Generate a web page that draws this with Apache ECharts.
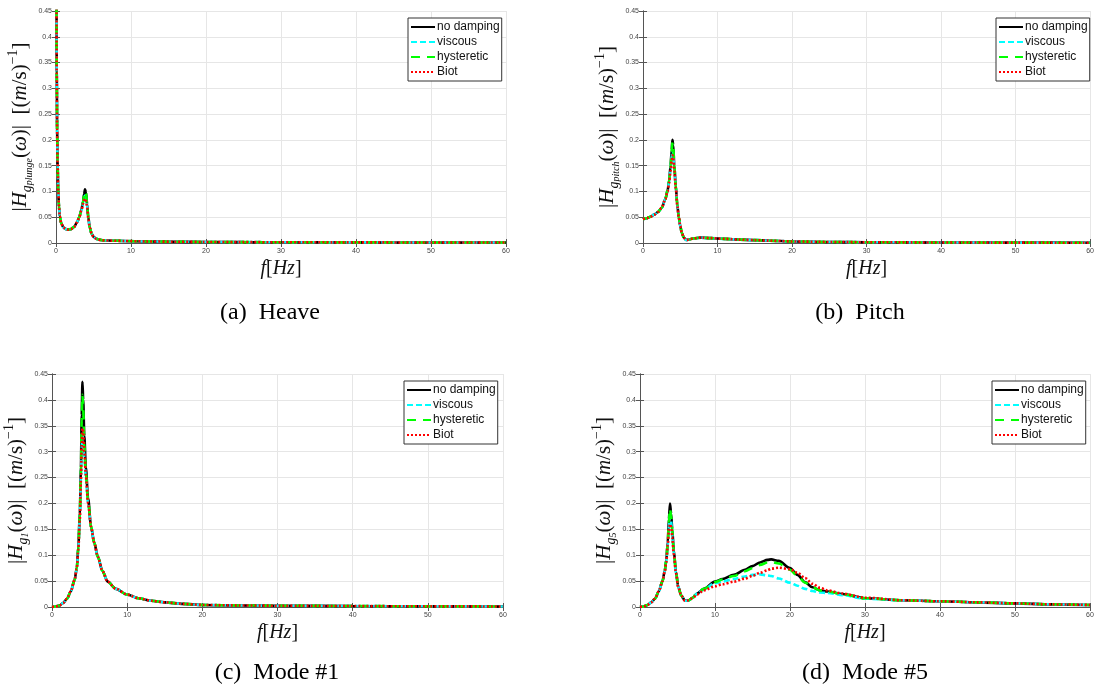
<!DOCTYPE html>
<html>
<head>
<meta charset="utf-8">
<script src="https://cdn.jsdelivr.net/npm/echarts@6/dist/echarts.min.js"></script>
<style>html,body{margin:0;padding:0;background:#fff}#c{width:1097px;height:693px}</style>
</head>
<body>
<div id="c"></div>
<script>
// ---------- data ----------
const seriesNames = ['no damping', 'viscous', 'hysteretic', 'Biot'];
const xTicks = [0, 10, 20, 30, 40, 50, 60];
const yTicks = [0, 0.05, 0.1, 0.15, 0.2, 0.25, 0.3, 0.35, 0.4, 0.45];

// (a) Heave
const xA = [0, 0.05, 0.1, 0.15, 0.2, 0.3, 0.4, 0.5, 0.7, 1.0, 1.3, 1.6, 2.0, 2.4, 2.8, 3.1, 3.4, 3.6, 3.75, 3.87, 4.0, 4.15, 4.3, 4.5, 4.75, 5.0, 5.4, 5.9, 6.5, 7.5, 9, 12, 16, 20, 25, 30, 40, 50, 60];
const heaveNoDamp = [1.2, 0.55, 0.33, 0.22, 0.16, 0.10, 0.07, 0.052, 0.038, 0.030, 0.027, 0.026, 0.027, 0.031, 0.040, 0.050, 0.065, 0.080, 0.095, 0.104, 0.098, 0.075, 0.050, 0.030, 0.018, 0.012, 0.008, 0.006, 0.005, 0.0045, 0.004, 0.003, 0.0025, 0.002, 0.0017, 0.0015, 0.0012, 0.001, 0.001];
const heaveViscous = [1.2, 0.55, 0.33, 0.22, 0.16, 0.10, 0.07, 0.052, 0.038, 0.030, 0.027, 0.026, 0.027, 0.031, 0.040, 0.050, 0.064, 0.078, 0.088, 0.092, 0.088, 0.072, 0.050, 0.030, 0.018, 0.012, 0.008, 0.006, 0.005, 0.0045, 0.004, 0.003, 0.0025, 0.002, 0.0017, 0.0015, 0.0012, 0.001, 0.001];
const heaveHyster = [1.2, 0.55, 0.33, 0.22, 0.16, 0.10, 0.07, 0.052, 0.038, 0.030, 0.027, 0.026, 0.027, 0.031, 0.040, 0.050, 0.065, 0.079, 0.093, 0.100, 0.096, 0.075, 0.050, 0.030, 0.018, 0.012, 0.008, 0.006, 0.005, 0.0045, 0.004, 0.003, 0.0025, 0.002, 0.0017, 0.0015, 0.0012, 0.001, 0.001];
const heaveBiot = [1.2, 0.55, 0.33, 0.22, 0.16, 0.10, 0.07, 0.052, 0.038, 0.030, 0.027, 0.026, 0.027, 0.031, 0.040, 0.050, 0.063, 0.076, 0.083, 0.086, 0.083, 0.070, 0.049, 0.030, 0.018, 0.012, 0.008, 0.006, 0.005, 0.0045, 0.004, 0.003, 0.0025, 0.002, 0.0017, 0.0015, 0.0012, 0.001, 0.001];

// (b) Pitch
const xB = [0, 0.5, 1, 1.5, 2, 2.5, 3, 3.3, 3.5, 3.7, 3.85, 3.95, 4.05, 4.2, 4.4, 4.6, 4.8, 5.0, 5.2, 5.5, 5.8, 6.2, 6.8, 7.8, 9, 11, 13, 15, 17, 20, 25, 30, 40, 50, 60];
const pitchNoDamp = [0.046, 0.048, 0.051, 0.055, 0.060, 0.068, 0.085, 0.102, 0.120, 0.150, 0.180, 0.200, 0.190, 0.150, 0.110, 0.075, 0.050, 0.033, 0.020, 0.010, 0.006, 0.007, 0.009, 0.0105, 0.0095, 0.008, 0.0065, 0.0055, 0.0045, 0.003, 0.002, 0.0015, 0.001, 0.0007, 0.0005];
const pitchViscous = [0.046, 0.048, 0.051, 0.055, 0.060, 0.068, 0.085, 0.101, 0.118, 0.145, 0.168, 0.180, 0.175, 0.145, 0.108, 0.074, 0.050, 0.033, 0.020, 0.010, 0.006, 0.007, 0.009, 0.0105, 0.0095, 0.008, 0.0065, 0.0055, 0.0045, 0.003, 0.002, 0.0015, 0.001, 0.0007, 0.0005];
const pitchHyster = [0.046, 0.048, 0.051, 0.055, 0.060, 0.068, 0.085, 0.102, 0.120, 0.149, 0.178, 0.195, 0.187, 0.150, 0.110, 0.075, 0.050, 0.033, 0.020, 0.010, 0.006, 0.007, 0.009, 0.0105, 0.0095, 0.008, 0.0065, 0.0055, 0.0045, 0.003, 0.002, 0.0015, 0.001, 0.0007, 0.0005];
const pitchBiot = [0.046, 0.048, 0.051, 0.055, 0.060, 0.068, 0.085, 0.100, 0.116, 0.140, 0.160, 0.170, 0.167, 0.142, 0.106, 0.073, 0.050, 0.033, 0.020, 0.010, 0.006, 0.007, 0.009, 0.0105, 0.0095, 0.008, 0.0065, 0.0055, 0.0045, 0.003, 0.002, 0.0015, 0.001, 0.0007, 0.0005];

// (c) Mode #1
const xC = [0, 0.5, 1, 1.5, 2, 2.5, 3, 3.3, 3.5, 3.7, 3.85, 3.95, 4.05, 4.15, 4.3, 4.5, 4.8, 5.2, 5.6, 6.1, 6.7, 7.4, 8.5, 10, 11.5, 13.2, 15, 17.5, 20, 25, 30, 40, 50, 60];
const mode1NoDamp = [0, 0.001, 0.003, 0.008, 0.016, 0.030, 0.052, 0.075, 0.116, 0.180, 0.270, 0.370, 0.435, 0.400, 0.330, 0.270, 0.210, 0.155, 0.125, 0.097, 0.070, 0.049, 0.035, 0.024, 0.017, 0.012, 0.009, 0.006, 0.004, 0.003, 0.0025, 0.0018, 0.0013, 0.001];
const mode1Viscous = [0, 0.001, 0.003, 0.008, 0.016, 0.030, 0.052, 0.074, 0.112, 0.175, 0.250, 0.310, 0.330, 0.320, 0.290, 0.250, 0.200, 0.155, 0.125, 0.097, 0.070, 0.049, 0.035, 0.024, 0.017, 0.012, 0.009, 0.006, 0.004, 0.003, 0.0025, 0.0018, 0.0013, 0.001];
const mode1Hyster = [0, 0.001, 0.003, 0.008, 0.016, 0.030, 0.052, 0.075, 0.115, 0.178, 0.265, 0.360, 0.410, 0.385, 0.315, 0.258, 0.205, 0.155, 0.125, 0.097, 0.070, 0.049, 0.035, 0.024, 0.017, 0.012, 0.009, 0.006, 0.004, 0.003, 0.0025, 0.0018, 0.0013, 0.001];
const mode1Biot = [0, 0.001, 0.003, 0.008, 0.016, 0.030, 0.052, 0.074, 0.111, 0.170, 0.245, 0.310, 0.345, 0.340, 0.300, 0.255, 0.200, 0.155, 0.125, 0.097, 0.070, 0.049, 0.035, 0.024, 0.017, 0.012, 0.009, 0.006, 0.004, 0.003, 0.0025, 0.0018, 0.0013, 0.001];

// (d) Mode #5
const xD = [0, 0.5, 1, 1.5, 2, 2.5, 3, 3.3, 3.5, 3.7, 3.85, 4.0, 4.15, 4.3, 4.5, 4.8, 5.1, 5.5, 6.0, 6.5, 7.0, 7.6, 8.5, 10, 11, 12.5, 14, 15, 16, 17, 17.5, 18.5, 20, 21, 22, 23, 24, 25, 27, 30, 35, 40, 45, 50, 55, 60];
const mode5NoDamp = [0, 0.001, 0.004, 0.009, 0.016, 0.030, 0.050, 0.070, 0.090, 0.125, 0.170, 0.200, 0.180, 0.150, 0.110, 0.068, 0.039, 0.022, 0.012, 0.013, 0.018, 0.026, 0.035, 0.049, 0.054, 0.062, 0.072, 0.079, 0.086, 0.091, 0.092, 0.089, 0.075, 0.062, 0.048, 0.038, 0.032, 0.030, 0.025, 0.017, 0.013, 0.011, 0.009, 0.007, 0.005, 0.004];
const mode5Viscous = [0, 0.001, 0.004, 0.009, 0.016, 0.030, 0.050, 0.069, 0.088, 0.120, 0.155, 0.175, 0.165, 0.140, 0.105, 0.066, 0.039, 0.022, 0.012, 0.013, 0.018, 0.026, 0.034, 0.046, 0.049, 0.054, 0.059, 0.062, 0.063, 0.061, 0.060, 0.055, 0.047, 0.041, 0.035, 0.031, 0.028, 0.027, 0.023, 0.016, 0.013, 0.011, 0.009, 0.007, 0.005, 0.004];
const mode5Hyster = [0, 0.001, 0.004, 0.009, 0.016, 0.030, 0.050, 0.070, 0.089, 0.123, 0.165, 0.190, 0.175, 0.147, 0.108, 0.067, 0.039, 0.022, 0.012, 0.013, 0.018, 0.026, 0.035, 0.048, 0.053, 0.060, 0.069, 0.075, 0.081, 0.086, 0.087, 0.084, 0.072, 0.060, 0.047, 0.038, 0.032, 0.030, 0.025, 0.017, 0.013, 0.011, 0.009, 0.007, 0.005, 0.004];
const mode5Biot = [0, 0.001, 0.004, 0.009, 0.016, 0.030, 0.050, 0.068, 0.086, 0.120, 0.150, 0.160, 0.155, 0.135, 0.102, 0.065, 0.038, 0.022, 0.012, 0.013, 0.017, 0.024, 0.032, 0.040, 0.044, 0.049, 0.055, 0.060, 0.066, 0.071, 0.074, 0.076, 0.073, 0.066, 0.056, 0.045, 0.037, 0.032, 0.026, 0.018, 0.013, 0.011, 0.009, 0.007, 0.005, 0.004];

const panels = [
  { x: xA, ys: [heaveNoDamp, heaveViscous, heaveHyster, heaveBiot], sub: 'plunge', caption: '(a)  Heave' },
  { x: xB, ys: [pitchNoDamp, pitchViscous, pitchHyster, pitchBiot], sub: 'pitch', caption: '(b)  Pitch' },
  { x: xC, ys: [mode1NoDamp, mode1Viscous, mode1Hyster, mode1Biot], sub: '1', caption: '(c)  Mode #1' },
  { x: xD, ys: [mode5NoDamp, mode5Viscous, mode5Hyster, mode5Biot], sub: '5', caption: '(d)  Mode #5' }
];

// ---------- layout / style ----------
const grids = [
  { left: 56, top: 11, width: 450, height: 232 },
  { left: 643, top: 11, width: 451, height: 232 },
  { left: 52, top: 374, width: 451, height: 233 },
  { left: 640, top: 374, width: 450, height: 233 }
];
const legendPos = [
  { left: 408, top: 18 }, { left: 996, top: 18 }, { left: 404, top: 381 }, { left: 992, top: 381 }
];
const captionPos = [[270, 313], [860, 313], [277, 673], [865, 673]];

const lineStyles = [
  { color: '#000000', type: 'solid', width: 2.6 },
  { color: '#00ffff', type: [6, 3], width: 2.6 },
  { color: '#00ff00', type: [9, 7], width: 2.6 },
  { color: '#ff0000', type: [2, 2], width: 2.6 }
];
const axisColor = '#555';
const serif = '"Liberation Serif", "DejaVu Serif", serif';

const yRich = {
  u: { fontFamily: serif, fontSize: 21, color: '#111', lineHeight: 28, verticalAlign: 'middle' },
  i: { fontFamily: serif, fontSize: 21, fontStyle: 'italic', color: '#111', lineHeight: 28, verticalAlign: 'middle' },
  s: { fontFamily: serif, fontSize: 14, fontStyle: 'italic', color: '#111', lineHeight: 28, verticalAlign: 'bottom' },
  ss: { fontFamily: serif, fontSize: 10, fontStyle: 'italic', color: '#111', lineHeight: 24, verticalAlign: 'bottom' },
  sup: { fontFamily: serif, fontSize: 14, color: '#111', lineHeight: 28, verticalAlign: 'top' }
};
function yName(sub) {
  return '{u||}{i|H}{s|g}{ss|' + sub + '}{u|(}{i|ω}{u|)|  [(}{i|m}{u|/s)}{sup|−1}{u|]}';
}

const option = {
  animation: false,
  backgroundColor: '#fff',
  grid: grids.map(g => Object.assign({ containLabel: false }, g)),
  xAxis: [], yAxis: [], series: [], legend: [], graphic: []
};

panels.forEach((p, k) => {
  option.xAxis.push({
    type: 'value', gridIndex: k, min: xTicks[0], max: xTicks[xTicks.length - 1], interval: xTicks[1] - xTicks[0],
    position: 'bottom',
    axisLine: { show: true, lineStyle: { color: axisColor, width: 1 } },
    axisTick: { show: true, inside: true, length: 4, lineStyle: { color: axisColor } },
    axisLabel: { fontSize: 7, color: '#444', margin: 5, fontFamily: 'Liberation Sans' },
    splitLine: { show: true, lineStyle: { color: '#e6e6e6', width: 1 } },
    name: '{i|f}{u|[}{i|Hz}{u|]}', nameLocation: 'middle', nameGap: 16,
    nameTextStyle: { rich: {
      i: { fontFamily: serif, fontSize: 20, fontStyle: 'italic', color: '#111' },
      u: { fontFamily: serif, fontSize: 20, color: '#111' } } }
  });
  option.xAxis.push({
    type: 'value', gridIndex: k, min: xTicks[0], max: xTicks[xTicks.length - 1], interval: xTicks[1] - xTicks[0],
    position: 'top',
    axisLine: { show: true, lineStyle: { color: axisColor, width: 1 } },
    axisTick: { show: true, inside: true, length: 4, lineStyle: { color: axisColor } },
    axisLabel: { show: false }, splitLine: { show: false }
  });
  option.yAxis.push({
    type: 'value', gridIndex: k, min: yTicks[0], max: yTicks[yTicks.length - 1], interval: yTicks[1] - yTicks[0],
    position: 'left',
    axisLine: { show: true, lineStyle: { color: axisColor, width: 1 } },
    axisTick: { show: true, inside: true, length: 4, lineStyle: { color: axisColor } },
    axisLabel: { fontSize: 7, color: '#444', margin: 4, fontFamily: 'Liberation Sans' },
    splitLine: { show: true, lineStyle: { color: '#e6e6e6', width: 1 } },
    name: yName(p.sub), nameLocation: 'middle', nameGap: 22, nameRotate: 90,
    nameTextStyle: { rich: yRich }
  });
  option.yAxis.push({
    type: 'value', gridIndex: k, min: yTicks[0], max: yTicks[yTicks.length - 1], interval: yTicks[1] - yTicks[0],
    position: 'right',
    axisLine: { show: true, lineStyle: { color: axisColor, width: 1 } },
    axisTick: { show: true, inside: true, length: 4, lineStyle: { color: axisColor } },
    axisLabel: { show: false }, splitLine: { show: false }
  });

  p.ys.forEach((ys, s) => {
    option.series.push({
      name: seriesNames[s], type: 'line',
      xAxisIndex: 2 * k, yAxisIndex: 2 * k,
      data: p.x.map((x, i) => [x, ys[i]]),
      symbol: 'none', smooth: 0.3, smoothMonotone: 'x', clip: true,
      lineStyle: lineStyles[s], itemStyle: { color: lineStyles[s].color },
      z: 2 + s
    });
  });

  option.legend.push({
    data: seriesNames, orient: 'vertical',
    left: legendPos[k].left, top: legendPos[k].top,
    itemWidth: 24, itemHeight: 10, itemGap: 3,
    padding: [3, 2, 3, 2],
    borderColor: '#333', borderWidth: 1, backgroundColor: '#fff', borderRadius: 0,
    selectedMode: false,
    itemStyle: { color: 'rgba(0,0,0,0)', borderColor: 'rgba(0,0,0,0)', borderWidth: 0, opacity: 0 },
    textStyle: { fontSize: 12, color: '#111', fontFamily: 'Liberation Sans', padding: [0, 0, 0, -3] },
    z: 10
  });

  option.graphic.push({
    type: 'text', x: captionPos[k][0], y: captionPos[k][1],
    style: { text: p.caption, font: '24px "Liberation Serif"', fill: '#000',
      textAlign: 'center', textVerticalAlign: 'middle', align: 'center', verticalAlign: 'middle' }
  });
});

const chart = echarts.init(document.getElementById('c'), null, { renderer: 'canvas' });
chart.setOption(option);
</script>
</body>
</html>
